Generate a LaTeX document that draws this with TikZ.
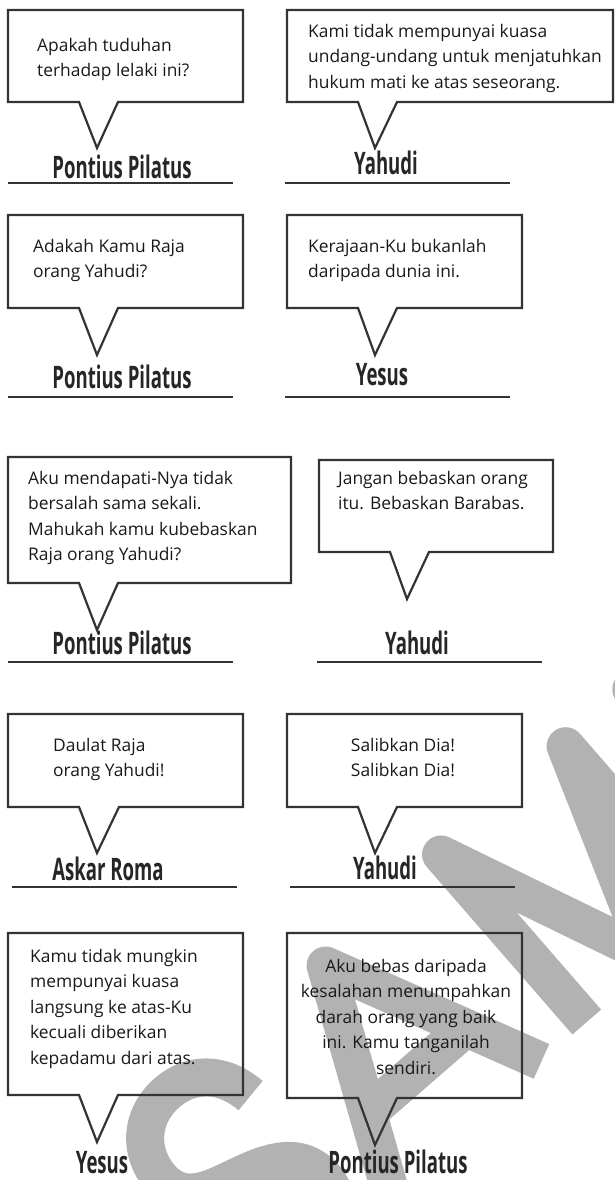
\documentclass[tikz,border=0pt]{standalone}
\usepackage{fontspec}
\setmainfont{Open Sans}
\usepackage{graphicx}
\usepackage{tikz}
\tikzstyle{bubble} = [draw=black!80, line width=2.2pt, line join=miter]
\newcommand{\squeezed}[1]{\scalebox{0.6}[1]{#1}}

\begin{document}
\begin{tikzpicture}[x=1pt, y=-1pt,
    said/.style={anchor=north west, align=left, inner sep=0pt, font=\fontsize{17.4}{25.5}\selectfont, text=black!90},
    saidmid/.style={said, anchor=north, align=center},
    who/.style={inner sep=0pt, font=\fontsize{31}{31}\selectfont\bfseries, text=black!85},
    rule/.style={draw=black!80, line width=1.8pt},
    stamp/.style={draw=black!30, line width=38pt, line cap=butt, line join=round},
]
\useasboundingbox (0,0) rectangle (615,1180);

% Watermark behind everything
\begin{scope}[shift={(466,1127)}, rotate=41]
  \draw[stamp] (-142,-165) .. controls (-148,-205) and (-175,-222) .. (-203,-222)
     .. controls (-240,-222) and (-264,-195) .. (-264,-162)
     .. controls (-264,-125) and (-230,-120) .. (-203,-112)
     .. controls (-170,-103) and (-140,-90) .. (-140,-55)
     .. controls (-140,-20) and (-170,-5) .. (-203,-5)
     .. controls (-240,-5) and (-262,-25) .. (-268,-55);
  \draw[stamp] (-100,0) -- (0,-214) -- (100,0);
  \draw[stamp] (-62,-75) -- (62,-75);
  \draw[stamp] (160,0) -- (160,-222) -- (250,-10) -- (325,-222) -- (325,0);
  \draw[stamp] (412,0) -- (412,-222) -- (470,-222) .. controls (520,-222) and (535,-195) .. (535,-165)
     .. controls (535,-130) and (515,-108) .. (470,-108) -- (412,-108);
\end{scope}

% Row 1
\draw[bubble] (79,102) -- (8,102) -- (8,10) -- (243,10) -- (243,102) -- (118,102) -- (97,148) -- cycle;
\node[said] (say1) at (37,38) {Apakah tuduhan\\terhadap lelaki ini?};
\node[who] (who1) at (122,167) {\squeezed{Pontius Pilatus}};
\draw[rule] (8,183) -- (233,183);

\draw[bubble] (358,102) -- (287,102) -- (287,10) -- (613,10) -- (613,102) -- (397,102) -- (375,148) -- cycle;
\node[said] (say2) at (308,24) {Kami tidak mempunyai kuasa\\undang-undang untuk menjatuhkan\\hukum mati ke atas seseorang.};
\node[who] (who2) at (386,163) {\squeezed{Yahudi}};
\draw[rule] (285,183) -- (510,183);

% Row 2
\draw[bubble] (79,308) -- (8,308) -- (8,215) -- (243,215) -- (243,308) -- (118,308) -- (97,355) -- cycle;
\node[said] (say3) at (33,239) {Adakah Kamu Raja\\orang Yahudi?};
\node[who] (who3) at (122,377) {\squeezed{Pontius Pilatus}};
\draw[rule] (8,397) -- (233,397);

\draw[bubble] (358,308) -- (287,308) -- (287,215) -- (522,215) -- (522,308) -- (397,308) -- (375,355) -- cycle;
\node[said] (say4) at (308,239) {Kerajaan-Ku bukanlah\\daripada dunia ini.};
\node[who] (who4) at (382,375) {\squeezed{Yesus}};
\draw[rule] (285,397) -- (510,397);

% Row 3
\draw[bubble] (79,583) -- (8,583) -- (8,457) -- (291,457) -- (291,583) -- (118,583) -- (97,630) -- cycle;
\node[said] (say5) at (28,471) {Aku mendapati-Nya tidak\\bersalah sama sekali.\\Mahukah kamu kubebaskan\\Raja orang Yahudi?};
\node[who] (who5) at (122,643) {\squeezed{Pontius Pilatus}};
\draw[rule] (8,662) -- (233,662);

\draw[bubble] (390,552) -- (319,552) -- (319,460) -- (553,460) -- (553,552) -- (429,552) -- (407,599) -- cycle;
\node[said] (say6) at (338,471) {Jangan bebaskan orang\\itu. Bebaskan Barabas.};
\node[who] (who6) at (417,643) {\squeezed{Yahudi}};
\draw[rule] (317,662) -- (542,662);

% Row 4
\draw[bubble] (79,807) -- (8,807) -- (8,714) -- (243,714) -- (243,807) -- (119,807) -- (97,853) -- cycle;
\node[said] (say7) at (53,738) {Daulat Raja\\orang Yahudi!};
\node[who] (who7) at (108,869) {\squeezed{Askar Roma}};
\draw[rule] (12,887) -- (237,887);

\draw[bubble] (358,807) -- (287,807) -- (287,714) -- (522,714) -- (522,807) -- (397,807) -- (375,853) -- cycle;
\node[saidmid] (say8) at (403,738) {Salibkan Dia!\\Salibkan Dia!};
\node[who] (who8) at (385,868) {\squeezed{Yahudi}};
\draw[rule] (290,887) -- (515,887);

% Row 5
\draw[bubble] (79,1095) -- (8,1095) -- (8,933) -- (243,933) -- (243,1095) -- (118,1095) -- (97,1142) -- cycle;
\node[said] (say9) at (30,949) {Kamu tidak mungkin\\mempunyai kuasa\\langsung ke atas-Ku\\kecuali diberikan\\kepadamu dari atas.};
\node[who] (who9) at (102,1163) {\squeezed{Yesus}};

\draw[bubble] (358,1098) -- (287,1098) -- (287,933) -- (522,933) -- (522,1098) -- (397,1098) -- (375,1145) -- cycle;
\node[saidmid] (say10) at (406,959) {Aku bebas daripada\\kesalahan menumpahkan\\darah orang yang baik\\ini. Kamu tanganilah\\sendiri.};
\node[who] (who10) at (398,1162) {\squeezed{Pontius Pilatus}};

\end{tikzpicture}
\end{document}
